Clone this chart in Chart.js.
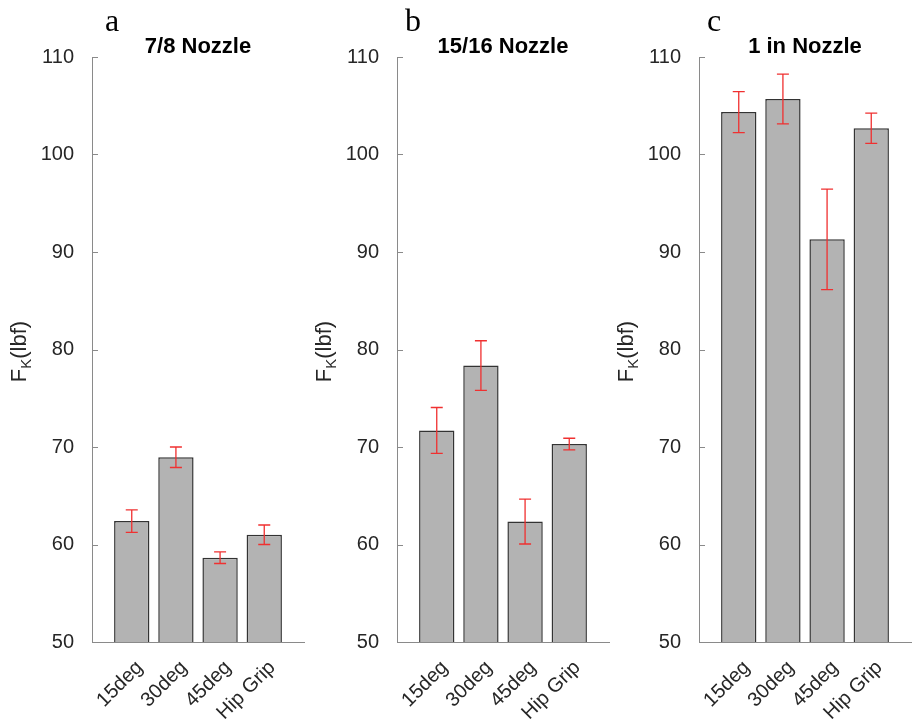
<!DOCTYPE html>
<html>
<head>
<meta charset="utf-8">
<script src="https://cdn.jsdelivr.net/npm/chart.js@4.4.1/dist/chart.umd.min.js"></script>
<style>
  body { margin: 0; background: #fff; }
  #wrap { position: relative; width: 912px; height: 724px; overflow: hidden; }
  canvas { position: absolute; top: 0; }
</style>
</head>
<body>
<div id="wrap">
  <canvas id="panelA" width="305" height="724" style="left:0px"></canvas>
  <canvas id="panelB" width="305" height="724" style="left:305px"></canvas>
  <canvas id="panelC" width="305" height="724" style="left:607px"></canvas>
</div>
<script>
// data
var categories = ['15deg', '30deg', '45deg', 'Hip Grip'];
var yTicks = [50, 60, 70, 80, 90, 100, 110];

var meansA = [62.4, 68.95, 58.65, 61.0];
var errsA = [1.15, 1.05, 0.6, 1.0];

var meansB = [71.7, 78.35, 62.35, 70.3];
var errsB = [2.35, 2.55, 2.3, 0.6];

var meansC = [104.35, 105.7, 91.3, 102.7];
var errsC = [2.1, 2.55, 5.15, 1.55];

var SANS = '"Liberation Sans", Arial, sans-serif';
var SERIF = '"Liberation Serif", "Times New Roman", serif';
var AXIS = '#8a8a8a';
var TEXT = '#262626';

// letters, titles, y label, inner ticks and error bars
var panelDecor = {
    id: 'panelDecor',
    afterDatasetsDraw: function (chart, args, opts) {
        var ctx = chart.ctx;
        var area = chart.chartArea;
        var y = chart.scales.y;
        var meta = chart.getDatasetMeta(0);

        ctx.save();
        // error bars
        ctx.strokeStyle = '#f03030';
        ctx.lineWidth = 1.3;
        meta.data.forEach(function (bar, i) {
            var top = y.getPixelForValue(opts.means[i] + opts.errs[i]);
            var bot = y.getPixelForValue(opts.means[i] - opts.errs[i]);
            var cx = bar.x;
            ctx.beginPath();
            ctx.moveTo(cx, top); ctx.lineTo(cx, bot);
            ctx.moveTo(cx - 6, top); ctx.lineTo(cx + 6, top);
            ctx.moveTo(cx - 6, bot); ctx.lineTo(cx + 6, bot);
            ctx.stroke();
        });

        // inner y ticks
        ctx.strokeStyle = AXIS;
        ctx.lineWidth = 1;
        yTicks.forEach(function (t) {
            var py = Math.round(y.getPixelForValue(t)) + 0.5;
            ctx.beginPath();
            ctx.moveTo(area.left, py);
            ctx.lineTo(area.left + 6, py);
            ctx.stroke();
        });

        // panel letter
        ctx.fillStyle = '#000';
        ctx.font = '32px ' + SERIF;
        ctx.textAlign = 'left';
        ctx.textBaseline = 'alphabetic';
        ctx.fillText(opts.letter, area.left + opts.letterDx, 31);

        // title
        ctx.font = 'bold 22px ' + SANS;
        ctx.textAlign = 'center';
        ctx.fillText(opts.title, (area.left + area.right) / 2, 53);

        // y label F_K(lbf)
        ctx.fillStyle = TEXT;
        ctx.translate(26, (area.top + area.bottom) / 2 + 2);
        ctx.rotate(-Math.PI / 2);
        ctx.textAlign = 'left';
        var big = '22px ' + SANS, small = '15px ' + SANS;
        ctx.font = big;
        var w1 = ctx.measureText('F').width;
        var w3 = ctx.measureText('(lbf)').width;
        ctx.font = small;
        var w2 = ctx.measureText('K').width;
        var x0 = -(w1 + w2 + w3) / 2;
        ctx.font = big;
        ctx.fillText('F', x0, 0);
        ctx.font = small;
        ctx.fillText('K', x0 + w1, 5);
        ctx.font = big;
        ctx.fillText('(lbf)', x0 + w1 + w2, 0);
        ctx.restore();
    }
};

function makePanel(id, letter, letterDx, title, means, errs) {
    var pts = means.map(function (v, i) { return { x: i + 1, y: v }; });
    return new Chart(document.getElementById(id).getContext('2d'), {
        type: 'bar',
        data: {
            datasets: [{
                data: pts,
                base: 50,
                backgroundColor: '#b3b3b3',
                borderColor: '#333333',
                borderWidth: 1.5,
                barPercentage: 0.8,
                categoryPercentage: 1.0
            }]
        },
        options: {
            responsive: false,
            animation: false,
            layout: { padding: { top: 57, right: 1, left: 0, bottom: 0 } },
            plugins: {
                legend: { display: false },
                tooltip: { enabled: false },
                panelDecor: { letter: letter, letterDx: letterDx, title: title, means: means, errs: errs }
            },
            scales: {
                x: {
                    type: 'linear',
                    min: 0.1,
                    max: 4.9,
                    offset: false,
                    grid: { display: false },
                    border: { display: true, color: AXIS, width: 1 },
                    afterBuildTicks: function (scale) {
                        scale.ticks = categories.map(function (c, i) { return { value: i + 1 }; });
                    },
                    afterFit: function (scale) { scale.height = 82; },
                    ticks: {
                        autoSkip: false,
                        minRotation: 45,
                        maxRotation: 45,
                        padding: 6,
                        labelOffset: 8,
                        color: TEXT,
                        font: { family: SANS, size: 20 },
                        callback: function (v) { return categories[v - 1]; }
                    }
                },
                y: {
                    min: 50,
                    max: 110,
                    grid: { display: false },
                    border: { display: true, color: AXIS, width: 1 },
                    afterFit: function (scale) { scale.width = 92; },
                    ticks: {
                        stepSize: 10,
                        padding: 10,
                        color: TEXT,
                        font: { family: SANS, size: 20 }
                    }
                }
            }
        },
        plugins: [panelDecor]
    });
}

makePanel('panelA', 'a', 13, '7/8 Nozzle', meansA, errsA);
makePanel('panelB', 'b', 8, '15/16 Nozzle', meansB, errsB);
makePanel('panelC', 'c', 8, '1 in Nozzle', meansC, errsC);
</script>
</body>
</html>
